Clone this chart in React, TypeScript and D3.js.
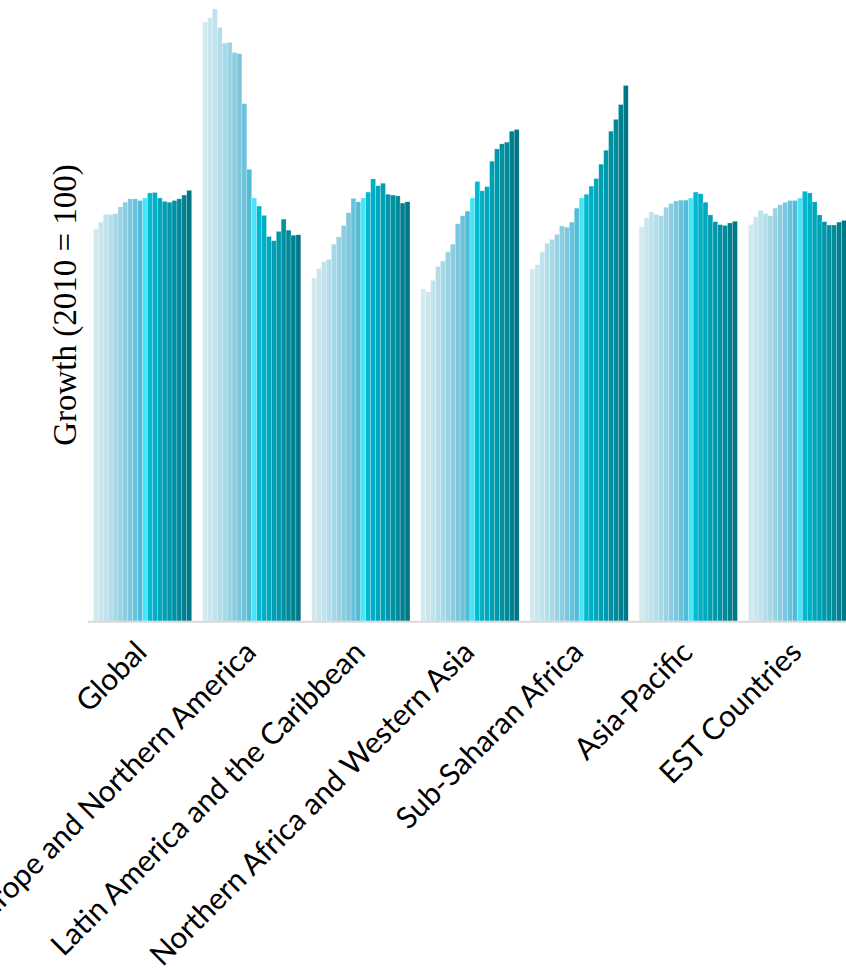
import React from "react";
import * as d3 from "d3";

const regions = [
  "Global",
  "Europe and Northern America",
  "Latin America and the Caribbean",
  "Northern Africa and Western Asia",
  "Sub-Saharan Africa",
  "Asia-Pacific",
  "EST Countries",
];

const years = d3.range(2000, 2020).map(String);

const globalVals = [92.7, 94.3, 96.1, 96.1, 96.3, 97.9, 99.0, 99.8, 99.8, 99.4, 100, 101.2, 101.3, 100, 99.2, 99.0, 99.4, 99.8, 100.7, 101.8];
const europeVals = [141.6, 142.6, 144.7, 140.3, 136.6, 136.8, 134.4, 134.1, 122.3, 106.8, 100, 98.1, 95.9, 90.9, 89.9, 92.1, 95.0, 92.4, 91.2, 91.3];
const latinVals = [81.1, 83.3, 85.0, 85.5, 89.1, 90.8, 93.5, 96.5, 99.9, 99.1, 100, 101.4, 104.5, 102.9, 103.5, 100.9, 100.7, 100.5, 98.8, 99.1];
const nafricaVals = [78.5, 77.8, 80.5, 83.8, 85.1, 87.3, 89.1, 93.9, 95.8, 96.9, 100, 103.9, 101.7, 102.7, 108.7, 111.6, 112.8, 113.2, 115.8, 116.2];
const ssafricaVals = [83.2, 84.2, 87.2, 89.3, 90.2, 91.4, 93.4, 93.1, 94.3, 97.6, 100, 100.9, 102.8, 104.6, 108.0, 111.3, 115.8, 118.6, 122.1, 126.6];
const asiaPacVals = [93.2, 95.3, 96.7, 96.1, 95.8, 97.8, 98.7, 99.3, 99.5, 99.5, 100, 101.4, 101.0, 99.0, 96.0, 94.4, 93.7, 93.5, 94.1, 94.5];
const estVals = [93.7, 95.6, 97.1, 96.3, 95.8, 97.6, 98.4, 99.0, 99.4, 99.4, 100, 101.6, 101.2, 99.1, 96.0, 94.4, 93.6, 93.6, 94.3, 94.7];

const seriesByRegion = [globalVals, europeVals, latinVals, nafricaVals, ssafricaVals, asiaPacVals, estVals];

const yearColors = [
  "#d3e9f0", "#c9e5ee", "#bfe2ec", "#b3dde9", "#a6d8e6",
  "#98d2e3", "#8acde0", "#7bc7de", "#69c2db", "#52bcd6",
  "#4ae4f7", "#00b8cf", "#00afc5", "#00a8bd", "#00a0b4",
  "#0099ac", "#0091a3", "#008a9a", "#008190", "#007786",
];

export default function App() {
  const W = 846;
  const H = 969;
  const baseY = 621;

  const x0 = d3.scaleBand().domain(regions).range([88, 852]).paddingInner(0.1).paddingOuter(0.05);
  const x1 = d3.scaleBand().domain(years).range([0, x0.bandwidth()]);
  const y = d3.scaleLinear().domain([0, 100]).range([baseY, 198]);

  return (
    <svg width={W} height={H} style={{ position: "absolute", left: 0, top: 0, background: "#fff" }}>
      {regions.map((r, gi) => (
        <g key={r} transform={`translate(${x0(r)},0)`}>
          {seriesByRegion[gi].map((v, i) => (
            <rect
              key={i}
              x={x1(years[i])}
              y={y(v)}
              width={x1.bandwidth()}
              height={baseY - y(v)}
              fill={yearColors[i]}
              stroke="#ffffff"
              strokeOpacity={0.45}
              strokeWidth={0.5}
            />
          ))}
        </g>
      ))}
      <line x1={88} x2={W} y1={baseY + 0.8} y2={baseY + 0.8} stroke="#d9d9d9" strokeWidth={2} />
      {regions.map((r) => {
        const cx = (x0(r) as number) + x0.bandwidth() / 2;
        return (
          <text
            key={r}
            transform={`translate(${cx + 6},${baseY + 33}) rotate(-45)`}
            textAnchor="end"
            fontFamily="Lato, 'Noto Sans', sans-serif"
            fontSize={30}
            fill="#000"
          >
            {r}
          </text>
        );
      })}
      <text
        transform={`translate(76,305) rotate(-90)`}
        textAnchor="middle"
        fontFamily="'Liberation Serif', 'Times New Roman', serif"
        fontSize={33}
        fill="#000"
      >
        Growth (2010 = 100)
      </text>
    </svg>
  );
}
